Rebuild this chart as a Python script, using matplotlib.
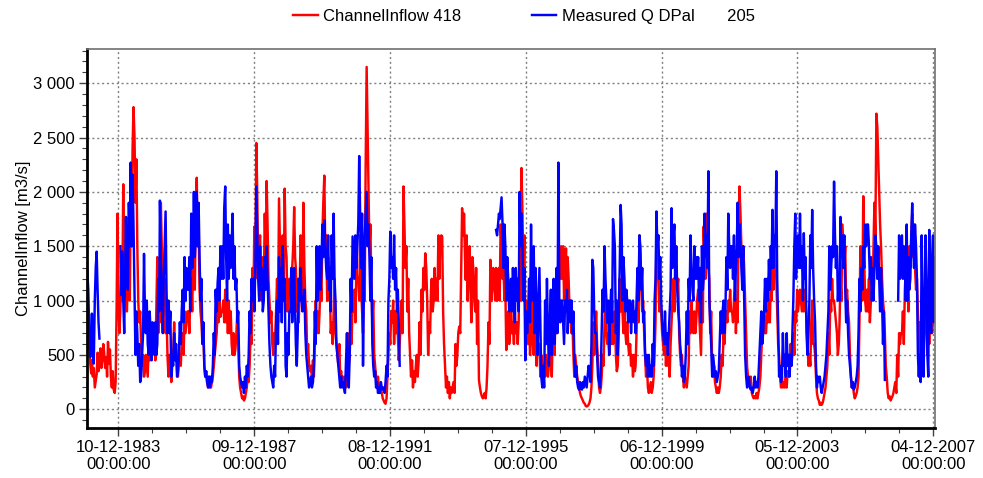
import numpy as np
import pandas as pd
import matplotlib
matplotlib.use('Agg')
import matplotlib.pyplot as plt
import matplotlib.dates as mdates
from matplotlib.ticker import FuncFormatter

nan = np.nan

# Readings on the 1st, 11th and 21st of each month, one row per year (1983 .. 2007)
channel_inflow = [
    760, 700, 560, 650, 420, 330, 450, 300, 380, 200, 260, 320, 520, 350, 420, 560, 380, 450, 600, 520, 380, 480, 300, 620, 420, 550, 300, 200, 350, 180, 150, 250, 900, 1800, 1000, 700,  # 1983
    900, 1300, 1000, 2070, 1100, 1500, 1400, 900, 1200, 1700, 1000, 1900, 1500, 2400, 2780, 2500, 1900, 2300, 1500, 1000, 800, 900, 600, 400, 500, 300, 350, 500, 400, 300, 600, 450, 800, 600, 700, 550,  # 1984
    600, 450, 900, 1400, 700, 1100, 800, 1900, 1500, 1200, 900, 1200, 700, 900, 500, 300, 500, 420, 250, 400, 500, 800, 500, 600, 350, 300, 450, 500, 400, 600, 700, 500, 900, 700, 800, 900,  # 1985
    900, 700, 1000, 1200, 900, 1400, 1500, 1100, 1800, 2130, 1500, 1700, 1100, 900, 800, 600, 700, 400, 300, 350, 250, 200, 300, 250, 200, 250, 300, 400, 500, 600, 700, 900, 800, 1000, 850, 900,  # 1986
    900, 1000, 800, 1100, 800, 1000, 700, 1000, 700, 900, 600, 500, 700, 500, 550, 700, 900, 600, 300, 200, 150, 100, 120, 80, 100, 150, 200, 300, 250, 400, 700, 600, 1300, 1000, 1680, 1200,  # 1987
    2450, 2000, 1300, 1500, 1600, 1000, 1300, 1400, 1100, 1800, 1400, 2100, 1700, 1200, 1000, 800, 900, 600, 500, 700, 600, 900, 1200, 800, 1940, 1500, 1100, 1400, 1600, 1000, 2030, 1500, 1400, 900, 1000, 1200,  # 1988
    1200, 1000, 1300, 1500, 1860, 1400, 1300, 900, 1200, 800, 1100, 1600, 1400, 1000, 1900, 1300, 1000, 900, 500, 600, 400, 350, 400, 300, 450, 300, 600, 1000, 700, 900, 700, 900, 1200, 1000, 1600, 1900,  # 1989
    2150, 1500, 1600, 1000, 1400, 1000, 1200, 700, 800, 600, 900, 1200, 700, 600, 500, 400, 600, 300, 350, 250, 300, 250, 300, 200, 300, 700, 400, 500, 800, 600, 1000, 900, 1100, 800, 1300, 1200,  # 1990
    1200, 1000, 1600, 1100, 900, 700, 1400, 1000, 2200, 3150, 2600, 2100, 1470, 1700, 1200, 800, 1000, 500, 400, 300, 250, 300, 200, 150, 200, 150, 100, 80, 60, 50, 100, 300, 500, 700, 600, 900,  # 1991
    800, 1000, 600, 900, 700, 900, 700, 450, 600, 800, 1000, 700, 2050, 1700, 1300, 1500, 900, 1200, 700, 500, 300, 450, 200, 350, 250, 400, 500, 300, 450, 800, 500, 1100, 900, 1300, 1100, 1435,  # 1992
    1300, 1000, 500, 800, 700, 1100, 1200, 900, 1000, 1300, 1000, 1200, 1000, 1600, 1200, 1550, 1600, 1590, 900, 600, 400, 200, 300, 150, 250, 100, 200, 150, 200, 250, 150, 600, 400, 500, 700, 760,  # 1993
    700, 1300, 1850, 1600, 1800, 1400, 1190, 1600, 1000, 1300, 1500, 1100, 800, 1400, 1300, 1000, 900, 1300, 600, 1000, 270, 200, 150, 120, 100, 120, 150, 100, 200, 400, 800, 600, 1375, 1000, 1100, 1300,  # 1994
    1200, 1000, 1300, 1000, 1100, 1300, 1000, 1700, 1500, 1200, 1300, 1000, 1100, 545, 800, 900, 600, 700, 1000, 700, 800, 600, 900, 700, 800, 600, 800, 1500, 1000, 2220, 1800, 1200, 1600, 800, 1000, 700,  # 1995
    600, 900, 500, 700, 1000, 600, 500, 900, 600, 400, 700, 500, 600, 300, 500, 400, 250, 400, 300, 500, 400, 300, 400, 600, 500, 300, 700, 600, 500, 900, 700, 1000, 800, 1400, 1200, 1500,  # 1996
    1200, 1500, 1000, 1300, 1480, 1100, 1400, 1200, 900, 1000, 700, 800, 500, 300, 500, 400, 300, 250, 200, 150, 120, 100, 80, 60, 50, 30, 25, 30, 40, 60, 100, 200, 400, 800, 500, 700,  # 1997
    900, 600, 400, 200, 150, 200, 300, 500, 400, 800, 1000, 700, 600, 700, 500, 800, 600, 1000, 600, 700, 900, 500, 350, 400, 700, 1200, 900, 1100, 900, 700, 1000, 700, 600, 800, 600, 500,  # 1998
    600, 400, 500, 300, 500, 350, 400, 700, 1000, 800, 1600, 1400, 1100, 900, 1000, 700, 500, 300, 400, 200, 150, 200, 250, 150, 200, 300, 500, 800, 1600, 1300, 1200, 900, 1000, 900, 700, 600,  # 1999
    500, 700, 400, 600, 400, 500, 300, 600, 800, 1000, 1200, 900, 1500, 1400, 1100, 1200, 700, 500, 400, 500, 300, 200, 300, 250, 200, 300, 400, 900, 700, 1000, 800, 700, 900, 700, 800, 1000,  # 2000
    1100, 900, 700, 500, 1000, 800, 1680, 1400, 1200, 1800, 1500, 1300, 1200, 700, 900, 400, 300, 400, 250, 200, 150, 200, 150, 200, 300, 500, 400, 700, 600, 800, 900, 800, 1000, 900, 1100, 900,  # 2001
    900, 800, 1000, 1200, 700, 1000, 800, 1600, 2050, 1800, 1500, 1200, 1500, 1300, 1000, 700, 400, 300, 250, 200, 300, 150, 120, 100, 120, 100, 150, 100, 150, 200, 300, 500, 700, 800, 900, 700,  # 2002
    700, 900, 800, 1000, 800, 1200, 1000, 1300, 1100, 1500, 1400, 1200, 900, 600, 500, 300, 200, 300, 200, 250, 200, 300, 200, 350, 300, 400, 600, 400, 500, 700, 500, 900, 800, 1100, 900, 1000,  # 2003
    1100, 1000, 900, 1100, 900, 1100, 1000, 800, 600, 400, 500, 400, 800, 1000, 600, 600, 500, 300, 150, 100, 80, 40, 60, 40, 60, 100, 150, 200, 300, 400, 700, 500, 1000, 900, 1200, 1000,  # 2004
    1000, 900, 800, 700, 500, 600, 800, 1200, 1000, 1700, 1500, 1300, 1500, 1000, 1100, 900, 800, 500, 300, 200, 250, 150, 100, 120, 150, 200, 300, 800, 1500, 1200, 1000, 1960, 1400, 1000, 900, 1100,  # 2005
    900, 1200, 800, 1000, 1300, 1100, 1500, 1900, 1600, 2720, 2600, 2300, 2000, 1700, 1500, 1200, 1000, 900, 700, 400, 300, 150, 100, 120, 80, 100, 120, 150, 200, 250, 150, 500, 300, 700, 600, 700,  # 2006
    700, 900, 600, 1100, 1300, 1000, 1200, 900, 1500, 1300, 1600, 1800, 1400, 1700, 1300, 1100, 1200, 900, 600, 800, 500, 700, 900, 600, 800, 1000, 700, 500, 800, 600, 800, 1000, 700, 900, 800, 1000,  # 2007
]

measured_q = [
    1420, 1250, 1100, 700, 480, 600, 880, 550, 420, 1000, 1300, 1450, 1100, 800, 650] + [nan] * 21 + [  # 1983
    1500, 1050, 1450, 1000, 700, 1300, 1770, 1200, 1100, 1900, 1500, 2270, 1500, 2160, 1700, 1100, 500, 900, 700, 400, 600, 250, 300, 500, 700, 1430, 900, 700, 1000, 600, 500, 900, 700, 450, 800, 600,  # 1984
    500, 800, 500, 600, 1200, 900, 1920, 1400, 1000, 700, 1200, 1500, 1820, 1100, 700, 1000, 700, 900, 300, 500, 400, 700, 450, 600, 300, 350, 500, 800, 600, 900, 1100, 800, 1400, 1000, 1300, 1100,  # 1985
    1100, 1400, 900, 1800, 1300, 1500, 2000, 1400, 1600, 2000, 1500, 1900, 1400, 1000, 1200, 600, 800, 400, 300, 350, 250, 200, 300, 200, 300, 250, 400, 700, 500, 1100, 900, 1160, 1300, 1000, 1500, 1200,  # 1986
    1500, 1200, 1850, 2050, 1400, 1000, 1700, 1200, 1600, 1300, 1500, 1800, 1200, 1500, 1100, 1200, 800, 900, 400, 300, 250, 200, 250, 150, 300, 200, 400, 300, 500, 900, 700, 1200, 1000, 1200, 900, 1300,  # 1987
    2050, 1600, 1200, 1000, 1500, 1100, 1300, 900, 1000, 1400, 1100, 1500, 1200, 900, 600, 400, 300, 250, 200, 400, 300, 800, 1000, 600, 1400, 900, 1300, 800, 1500, 1000, 1200, 400, 300, 700, 500, 900,  # 1988
    900, 1300, 800, 1100, 1300, 900, 600, 400, 700, 1200, 1000, 1300, 1000, 900, 1000, 1100, 700, 500, 400, 300, 200, 250, 300, 200, 250, 400, 900, 600, 1500, 1000, 1200, 1500, 1100, 1300, 1700, 1400,  # 1989
    1740, 1500, 1300, 1200, 1600, 1100, 1300, 900, 1600, 1200, 1800, 1200, 1000, 600, 500, 400, 300, 200, 300, 200, 250, 200, 150, 400, 700, 300, 200, 500, 1200, 900, 1590, 1400, 1200, 1600, 1300, 1500,  # 1990
    1700, 2330, 1800, 1300, 1800, 400, 1000, 1600, 1800, 2000, 1500, 1700, 1400, 1000, 1400, 600, 400, 300, 350, 200, 250, 150, 200, 150, 250, 200, 180, 200, 150, 250, 400, 300, 1000, 1200, 1635, 1300,  # 1991
    1400, 1200, 1600, 1100, 1300, 900, 1100, 800, 400] + [nan] * 27 + [nan] * 36 + [nan] * 36 + [  # 1992 - 1994
    nan, nan, 1650, 1600, 1700, 1800, 1750, 1850, 1950, 1700, 1300, 1700, 1500, 1000, 1400, 1200, 900, 1000, 1200, 900, 1300, 1000, 800, 1300, 1000, 1200, 900, 2000, 1500, 1800, 1500, 1000, 1300, 450, 900, 700,  # 1995
    900, 1200, 800, 1700, 1000, 1300, 1500, 700, 1300, 1000, 500, 900, 1300, 800, 300, 200, 400, 200, 1000, 600, 1200, 700, 400, 800, 1100, 500, 900, 1200, 600, 900, 1300, 700, 2270, 1000, 800, 1000,  # 1996
    1000, 800, 600, 1000, 900, 1100, 700, 900, 1000, 800, 1000, 700, 900, 500, 300, 400, 250, 200, 180, 250, 200, 180, 250, 200, 300, 250, 200, 300, 400, 350, 250, 600, 1375, 1300, 900, 700,  # 1997
    700, 500, 300, 250, 200, 400, 700, 1100, 900, 1500, 1200, 1000, 800, 1000, 500, 900, 1100, 800, 1750, 1650, 1500, 700, 1000, 500, 900, 1300, 1880, 1700, 1000, 1400, 1200, 900, 1100, 1000, 800, 1000,  # 1998
    1000, 700, 900, 1000, 800, 900, 700, 1000, 1300, 1000, 1600, 1500, 1100, 1300, 800, 900, 500, 400, 500, 300, 500, 300, 400, 300, 600, 400, 1000, 1200, 1820, 1500, 1600, 1200, 1400, 1000, 800, 700,  # 1999
    600, 900, 600, 700, 500, 700, 900, 1100, 1850, 1300, 1600, 1700, 1200, 1500, 1100, 900, 800, 600, 500, 300, 400, 250, 300, 500, 900, 600, 1200, 1000, 1600, 1300, 1100, 1000, 1500, 1200, 1400, 1200,  # 2000
    1400, 1000, 1300, 800, 1500, 1100, 1200, 1800, 1400, 1600, 1300, 2190, 1000, 800, 600, 300, 500, 400, 300, 350, 250, 300, 350, 600, 900, 700, 900, 1000, 700, 900, 1400, 1100, 1800, 1500, 1300, 1500,  # 2001
    1500, 1200, 1600, 1000, 1300, 1500, 1900, 1400, 1700, 1500, 1300, 1100, 1500, 1000, 500, 300, 200, 250, 300, 200, 180, 200, 150, 200, 300, 200, 250, 200, 300, 500, 700, 900, 600, 700, 900, 1200,  # 2002
    900, 1200, 1000, 1375, 1100, 1500, 1300, 1835, 1300, 1600, 1500, 2190, 1200, 800, 300, 400, 250, 300, 700, 400, 500, 300, 700, 400, 500, 300, 500, 400, 700, 1000, 1500, 1800, 1200, 1400, 1600, 1300,  # 2003
    1800, 1300, 1500, 1000, 1620, 1200, 1400, 700, 500, 700, 1000, 1600, 1300, 1834, 1300, 1000, 800, 400, 200, 300, 250, 300, 200, 150, 200, 250, 300, 400, 500, 700, 900, 1500, 1100, 1300, 1500, 1400,  # 2004
    2095, 1600, 1300, 1500, 1000, 1200, 1000, 1770, 1400, 1600, 1300, 1600, 1100, 800, 1000, 700, 500, 400, 300, 200, 250, 180, 200, 250, 300, 400, 700, 1200, 900, 1300, 1100, 1500, 1300, 1700, 1500, 1700,  # 2005
    1700, 1500, 1200, 1400, 1000, 1300, 1000, 1300, 1600, 1500, 1200, 1500, 1200, 900, 1300, 1000, 600, 900, 270] + [nan] * 13 + [1000, 1600, 1200, 1400,  # 2006
    1600, 1200, 1500, 1300, 1000, 1700, 1000, 1400, 1100, 1200, 1600, 1895, 1500, 1300, 1700, 1500, 1200, 500, 300, 500, 250, 1600, 900, 300, 1000, 1600, 1200, 500, 300, 1650, 900, 700, 1400, 1600, 800, 1400,  # 2007
]

dates = pd.DatetimeIndex([pd.Timestamp(y, m, d) for y in range(1983, 2008)
                          for m in range(1, 13) for d in (1, 11, 21)])

plt.rcParams['font.family'] = ['Liberation Sans', 'DejaVu Sans']
plt.rcParams['font.size'] = 12

fig = plt.figure(figsize=(9.83, 4.78), dpi=100)
ax = fig.add_axes([86.7 / 983, 50.3 / 478, 848.3 / 983, 378.7 / 478])

ax.plot(dates, channel_inflow, color='#ff0000', lw=1.75, label='ChannelInflow 418')
ax.plot(dates, measured_q, color='#0000ff', lw=1.75, label='Measured Q DPal       205')

ax.set_xlim(pd.Timestamp('1983-01-04'), pd.Timestamp('2007-12-22'))
ax.set_ylim(-170, 3315)

# major ticks every 1460 days, one minor tick per 365 days in between
major_ticks = pd.date_range('1983-12-10', periods=7, freq='1460D')
minor_ticks = [m + pd.Timedelta(days=365 * k) for m in major_ticks[:-1] for k in (1, 2, 3)]
ax.set_xticks(major_ticks)
ax.set_xticks(minor_ticks, minor=True)
ax.xaxis.set_major_formatter(mdates.DateFormatter('%d-%m-%Y\n%H:%M:%S'))

ax.set_yticks(range(0, 3001, 500))
ax.set_yticks(range(-100, 3301, 100), minor=True)
ax.yaxis.set_major_formatter(FuncFormatter(lambda v, p: f"{int(v):,}".replace(",", " ")))

ax.grid(True, which='major', color='#808080', lw=1, linestyle=(0, (1.5, 2)))

for s in ['left', 'bottom']:
    ax.spines[s].set_linewidth(2)
    ax.spines[s].set_color('black')
for s in ['top', 'right']:
    ax.spines[s].set_linewidth(1.2)
    ax.spines[s].set_color('#707070')

ax.tick_params(which='major', length=5.5, width=1, color='#404040', pad=3)
ax.tick_params(which='minor', length=3.5, width=0.8, color='#404040')

ax.set_ylabel('ChannelInflow [m3/s]')
ax.yaxis.set_label_coords(-0.066, 0.5)

fig.legend(loc='center', bbox_to_anchor=(0.533, 0.965), ncol=2, frameon=False,
           handlelength=1.45, handletextpad=0.35, columnspacing=4.2)

fig.savefig('out.png', dpi=100)
